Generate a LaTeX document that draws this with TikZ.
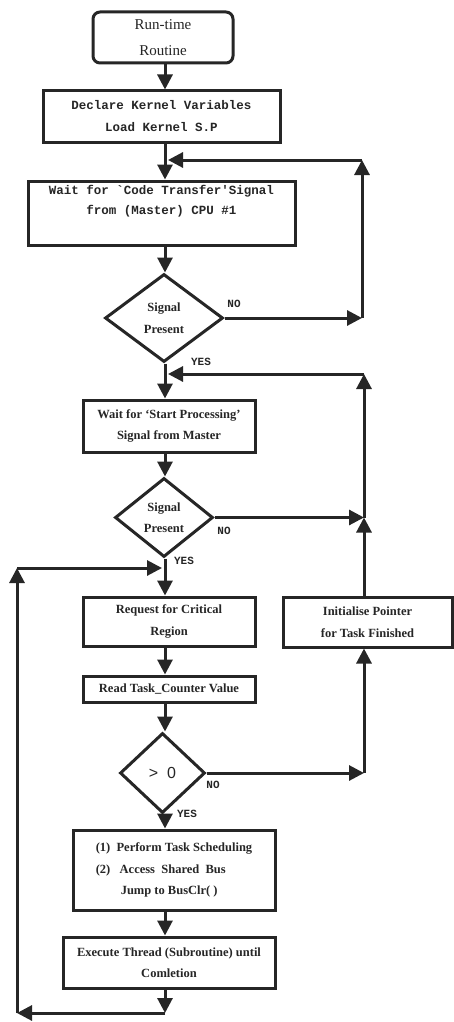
\documentclass[tikz,border=0pt]{standalone}
\usepackage{fontspec}
\setmainfont{Liberation Serif}
\newfontfamily\monof{Liberation Mono}
\newfontfamily\sansf{Liberation Sans}
\usetikzlibrary{shapes.geometric,arrows.meta,calc}
\definecolor{ink}{HTML}{262626}
\begin{document}
\begin{tikzpicture}[x=1pt,y=-1pt,
  every node/.style={text=ink},
  conn/.style={draw=ink,line width=3pt},
  arr/.style={conn,-{Triangle[width=15pt,length=15pt]}},
  box/.style={draw=ink,line width=3pt,rectangle,inner sep=0pt,align=center},
  rbox/.style={box,rounded corners=7pt},
  dia/.style={draw=ink,line width=3pt,diamond,inner sep=0pt,align=center},
  tt/.style={font=\monof\bfseries\fontsize{12.5}{22}\selectfont},
  rm/.style={font=\bfseries\fontsize{12.5}{21.5}\selectfont},
  lbl/.style={font=\monof\bfseries\fontsize{11}{12}\selectfont,inner sep=0pt}
]
\useasboundingbox (0,0) rectangle (453,1022);
\fill[white] (0,0) rectangle (453,1022);
\coordinate (mx) at (165,0);

\node[rbox,minimum width=140,minimum height=51,font=\fontsize{15}{26}\selectfont] (start) at (163,37.5) {Run-time\\Routine};
\node[box,tt,minimum width=237,minimum height=51] (decl) at (161.5,116.5) {Declare Kernel Variables\\Load Kernel S.P};
\node[box,tt,minimum width=267,minimum height=64,font=\monof\bfseries\fontsize{12.5}{20}\selectfont] (wait1) at (161.5,213) {Wait for `Code Transfer'Signal\\from (Master) CPU \#1\\[6pt]};
\node[dia,rm,minimum width=118,minimum height=88] (d1) at (164,318) {Signal\\Present};
\node[box,rm,minimum width=172,minimum height=52] (wait2) at (169,426) {Wait for `Start Processing'\\Signal from Master};
\node[dia,rm,minimum width=98,minimum height=79] (d2) at (164,517.5) {Signal\\Present};
\node[box,rm,minimum width=172,minimum height=49] (req) at (169,621.5) {Request for Critical\\Region};
\node[box,rm,minimum width=169,minimum height=50] (init) at (367.5,622) {Initialise Pointer\\for Task Finished};
\node[box,rm,minimum width=172,minimum height=26] (read) at (169,689) {Read Task\_Counter Value};
\node[dia,minimum width=85,minimum height=80,font=\sansf\fontsize{16}{18}\selectfont] (d3) at (162.5,773) {>\ \ 0};
\node[box,rm,minimum width=202,minimum height=80,align=left] (perf) at (174,870) {(1)\ \ Perform Task Scheduling\\(2)\ \ \ Access\ \ Shared\ \ Bus\\\hspace{25pt}Jump to BusClr( )};
\node[box,rm,minimum width=212,minimum height=51] (exec) at (169,962.5) {Execute Thread (Subroutine) until\\Comletion};

\node[lbl] (no1) at (234,304) {NO};
\node[lbl] (yes1) at (201,362) {YES};
\node[lbl] (no2) at (224,531) {NO};
\node[lbl] (yes2) at (184,561) {YES};
\node[lbl] (no3) at (213,785) {NO};
\node[lbl] (yes3) at (187,814) {YES};

\coordinate (m1) at (165,160);
\coordinate (r1t) at (362,160);
\coordinate (r1b) at (d1.east -| r1t);
\coordinate (m2) at (165,374);
\coordinate (r2t) at (364,374);
\coordinate (r2m) at (d2.east -| r2t);
\coordinate (r2b) at (d3.east -| r2t);
\coordinate (m3) at (165,568);
\coordinate (lt) at (17,568);
\coordinate (lb) at (17,1013);
\coordinate (bb) at (165,1013);

% main flow
\draw[arr] (start.south -| mx) -- (decl.north -| mx);
\draw[arr] (decl.south -| mx) -- (wait1.north -| mx);
\draw[arr] (wait1.south -| mx) -- (d1.north -| mx);
\draw[arr] (d1.south -| mx) -- (wait2.north -| mx);
\draw[arr] (wait2.south -| mx) -- (d2.north -| mx);
\draw[arr] (d2.south -| mx) -- (req.north -| mx);
\draw[arr] (req.south -| mx) -- (read.north -| mx);
\draw[arr] (read.south -| mx) -- (d3.north -| mx);
\draw[arr] (d3.south -| mx) -- (perf.north -| mx);
\draw[arr] (perf.south -| mx) -- (exec.north -| mx);
\draw[arr] (exec.south -| mx) -- (bb);

% loop 1
\draw[arr] (d1.east) -- (r1b);
\draw[arr] (r1b) -- (r1t);
\draw[arr] (r1t) -- ($(m1)+(3,0)$);

% loop 2
\draw[arr] (d2.east) -- (r2m);
\draw[arr] (init.north -| r2m) -- (r2m);
\draw[arr] (r2m) -- (r2t);
\draw[arr] (r2t) -- ($(m2)+(3,0)$);
\draw[arr] (d3.east) -- (r2b);
\draw[arr] (r2b) -- (init.south -| r2b);

% loop 3
\draw[arr] (bb) -- (lb);
\draw[arr] (lb) -- (lt);
\draw[arr] (lt) -- ($(m3)+(-3,0)$);
\end{tikzpicture}
\end{document}
